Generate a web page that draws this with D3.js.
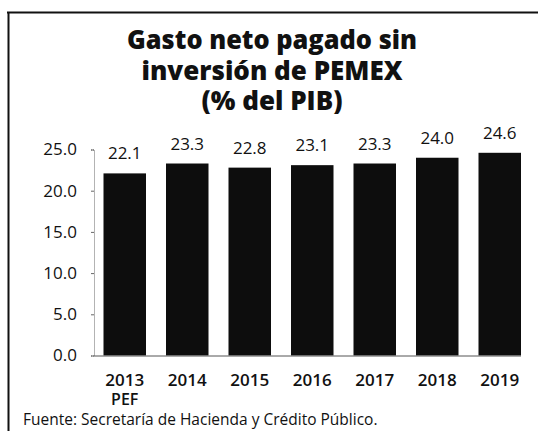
<!DOCTYPE html>
<html>
<head>
<meta charset="utf-8">
<script src="https://cdn.jsdelivr.net/npm/d3@7"></script>
<style>
  body { margin: 0; background: #fff; }
  svg { display: block; }
</style>
</head>
<body>
<svg id="chart"></svg>
<script>
// Chart data
const years = ["2013", "2014", "2015", "2016", "2017", "2018", "2019"];
const subLabels = ["PEF", "", "", "", "", "", ""];
const values = [22.1, 23.3, 22.8, 23.1, 23.3, 24.0, 24.6];
const yTicks = [0, 5, 10, 15, 20, 25];
const titleLines = ["Gasto neto pagado sin", "inversión de PEMEX", "(% del PIB)"];
const source = "Fuente: Secretaría de Hacienda y Crédito Público.";

const width = 538, height = 431;
const svg = d3.select("#chart").attr("width", width).attr("height", height);

// frame lines (top and left)
svg.append("line").attr("x1", 7).attr("x2", width).attr("y1", 12.5).attr("y2", 12.5)
    .attr("stroke", "#111").attr("stroke-width", 2);
svg.append("line").attr("x1", 8.5).attr("x2", 8.5).attr("y1", 12).attr("y2", height)
    .attr("stroke", "#111").attr("stroke-width", 2);

// title - condensed to match the narrow heavy face of the original
const titleY = [49, 80, 110];
const titleW = [290, 262, 176];
titleLines.forEach((t, i) => {
    const el = svg.append("text")
        .attr("x", 272)
        .attr("y", titleY[i])
        .attr("text-anchor", "middle")
        .attr("font-family", "'Open Sans', sans-serif")
        .attr("font-weight", 800)
        .attr("font-size", "26px")
        .attr("fill", "#111")
        .text(t);
    const w = el.node().getComputedTextLength();
    if (w > titleW[i]) {
        el.attr("textLength", titleW[i]).attr("lengthAdjust", "spacingAndGlyphs");
    }
});

const x = d3.scaleBand().domain(years).range([94, 530.5])
    .paddingInner(0.32).paddingOuter(0.152);
const y = d3.scaleLinear().domain([0, 25]).range([355.5, 149.5]);

// y axis
const yAxis = svg.append("g")
    .attr("transform", "translate(94,0)")
    .call(d3.axisLeft(y).tickValues(yTicks).tickFormat(d3.format(".1f")).tickSize(3).tickPadding(14));
yAxis.select(".domain").attr("stroke", "#666").attr("stroke-dasharray", "1,1");
yAxis.selectAll(".tick line").attr("stroke", "#666");
yAxis.selectAll("text")
    .attr("font-family", "'Open Sans', sans-serif")
    .attr("font-size", "17px")
    .attr("fill", "#111");

// bars
svg.selectAll(".bar")
    .data(values)
    .join("rect")
    .attr("class", "bar")
    .attr("x", (d, i) => x(years[i]))
    .attr("width", x.bandwidth())
    .attr("y", d => y(d))
    .attr("height", d => y(0) - y(d))
    .attr("fill", "#0d0d0d");

// x axis line
svg.append("line")
    .attr("x1", 94).attr("x2", x(years[years.length - 1]) + x.bandwidth())
    .attr("y1", y(0) + 0.5).attr("y2", y(0) + 0.5)
    .attr("stroke", "#555").attr("stroke-width", 1);

// value labels
svg.selectAll(".val")
    .data(values)
    .join("text")
    .attr("class", "val")
    .attr("x", (d, i) => x(years[i]) + x.bandwidth() / 2)
    .attr("y", d => y(d) - 14)
    .attr("text-anchor", "middle")
    .attr("font-family", "'Open Sans', sans-serif")
    .attr("font-size", "17px")
    .attr("fill", "#111")
    .text(d => d.toFixed(1));

// year labels
years.forEach((yr, i) => {
    const cx = x(yr) + x.bandwidth() / 2;
    svg.append("text")
        .attr("x", cx).attr("y", 386)
        .attr("text-anchor", "middle")
        .attr("font-family", "'Open Sans', sans-serif")
        .attr("font-weight", 600)
        .attr("font-size", "17px")
        .attr("fill", "#111")
        .text(yr);
    if (subLabels[i]) {
        svg.append("text")
            .attr("x", cx).attr("y", 405)
            .attr("text-anchor", "middle")
            .attr("font-family", "'Open Sans', sans-serif")
            .attr("font-weight", 600)
            .attr("font-size", "16px")
            .attr("fill", "#111")
            .text(subLabels[i]);
    }
});

// source
svg.append("text")
    .attr("x", 23).attr("y", 425)
    .attr("font-family", "'Open Sans', sans-serif")
    .attr("font-size", "15.5px")
    .attr("fill", "#111")
    .text(source);
</script>
</body>
</html>
